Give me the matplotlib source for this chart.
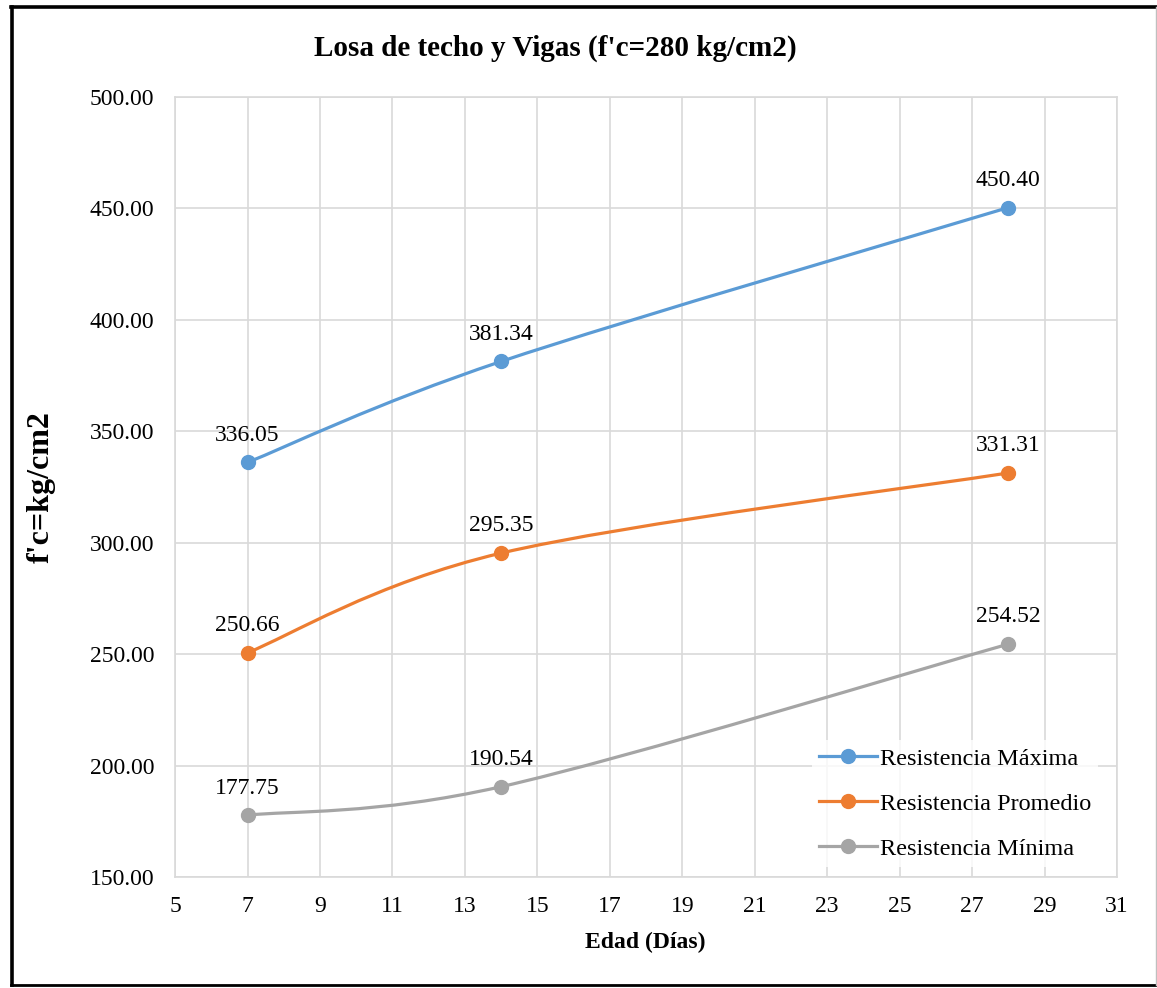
import matplotlib
matplotlib.use("Agg")
import matplotlib.pyplot as plt
from matplotlib.path import Path
from matplotlib.patches import PathPatch
from matplotlib.lines import Line2D
import numpy as np

plt.rcParams["font.family"] = ["Liberation Serif", "DejaVu Serif"]

edad = [7, 14, 28]
res_maxima = [336.05, 381.34, 450.40]
res_promedio = [250.66, 295.35, 331.31]
res_minima = [177.75, 190.54, 254.52]

series = [
    ("Resistencia Máxima", res_maxima, "#5B9BD5"),
    ("Resistencia Promedio", res_promedio, "#ED7D31"),
    ("Resistencia Mínima", res_minima, "#A5A5A5"),
]

x_ticks = list(range(5, 32, 2))
y_ticks = [150, 200, 250, 300, 350, 400, 450, 500]


def smooth_path(xs, ys):
    # Excel style smoothed line: cubic bezier with catmull-rom control points
    pts = np.column_stack([xs, ys]).astype(float)
    n = len(pts)
    verts = [pts[0]]
    codes = [Path.MOVETO]
    for i in range(n - 1):
        p_prev = pts[i - 1] if i > 0 else pts[i]
        p_next = pts[i + 2] if i + 2 < n else pts[i + 1]
        c1 = pts[i] + (pts[i + 1] - p_prev) / 6.0
        c2 = pts[i + 1] - (p_next - pts[i]) / 6.0
        verts += [c1, c2, pts[i + 1]]
        codes += [Path.CURVE4] * 3
    return Path(verts, codes)


fig = plt.figure(figsize=(11.57, 9.88), dpi=100)
ax = fig.add_axes([0.1513, 0.1123, 0.8141, 0.7895])

grid_c = "#D9D9D9"
for sp in ax.spines.values():
    sp.set_color(grid_c)
    sp.set_linewidth(1.2)
ax.grid(True, color=grid_c, linewidth=1.2)
ax.set_axisbelow(True)

handles = []
for name, vals, col in series:
    ax.add_patch(PathPatch(smooth_path(edad, vals), facecolor="none",
                           edgecolor=col, linewidth=2.3, zorder=3))
    ax.plot(edad, vals, "o", color=col, markersize=10, zorder=4)
    for xv, yv in zip(edad, vals):
        ax.annotate("%.2f" % yv, (xv, yv), xytext=(0, 12), textcoords="offset points",
                    ha="center", va="bottom", fontsize=17, zorder=5)
    handles.append(Line2D([], [], color=col, linewidth=2.3, marker="o", markersize=10))

ax.set_xlim(5, 31)
ax.set_ylim(150, 500)
ax.set_xticks(x_ticks)
ax.set_yticks(y_ticks)
ax.set_yticklabels(["%.2f" % v for v in y_ticks])
ax.tick_params(axis="both", length=0, labelsize=17)
ax.tick_params(axis="y", pad=15)
ax.tick_params(axis="x", pad=14)

leg = ax.legend(handles, [s[0] for s in series], loc="center",
                bbox_to_anchor=(0.828, 0.094), fontsize=17.5, frameon=True,
                handlelength=2.4, handletextpad=0.1, labelspacing=0.95,
                borderpad=0.3, fancybox=False)
leg.get_frame().set_facecolor("white")
leg.get_frame().set_edgecolor("none")
leg.set_zorder(6)

fig.text(0.48, 0.951, "Losa de techo y Vigas (f'c=280 kg/cm2)", ha="center", va="center",
         fontsize=21, fontweight="bold")
fig.text(0.036, 1 - 487 / 988, "f'c=kg/cm2", ha="center", va="center", rotation=90,
         fontsize=23, fontweight="bold")
fig.text(0.558, 0.0466, "Edad (Días)", ha="center", va="center",
         fontsize=17, fontweight="bold")

# outer frame
fig.add_artist(Line2D([0.0105, 0.0105], [0.003, 0.993], color="black", linewidth=2.6,
                      transform=fig.transFigure))
fig.add_artist(Line2D([0.0095, 0.999], [0.993, 0.993], color="black", linewidth=2.6,
                      transform=fig.transFigure))
fig.add_artist(Line2D([0.0095, 0.999], [0.003, 0.003], color="black", linewidth=2.0,
                      transform=fig.transFigure))
fig.add_artist(Line2D([0.999, 0.999], [0.003, 0.993], color="#BFBFBF", linewidth=1.0,
                      transform=fig.transFigure))

fig.savefig("out.png", dpi=100)
